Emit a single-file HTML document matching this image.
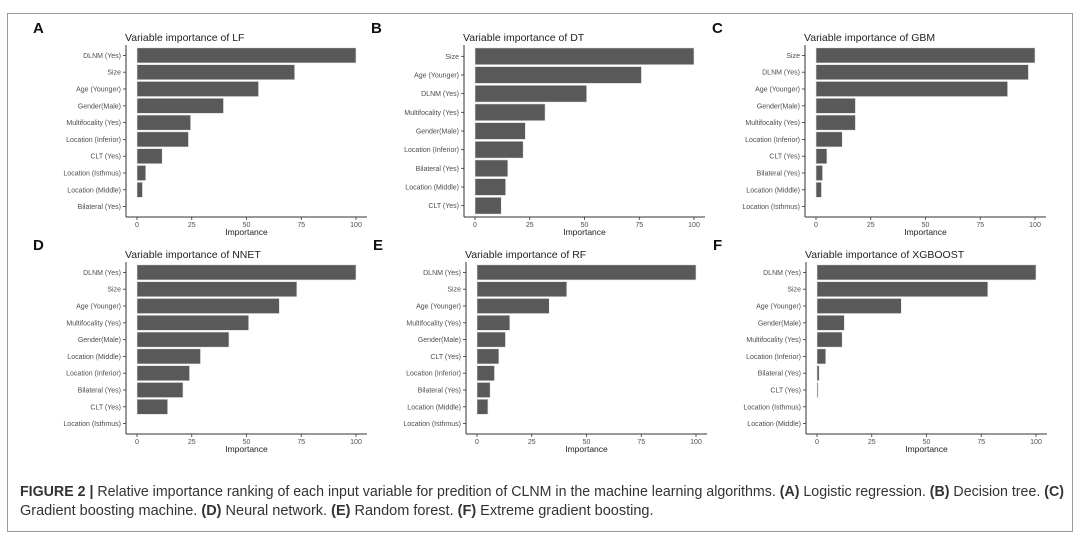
<!DOCTYPE html>
<html><head><meta charset="utf-8"><style>
body{margin:0;background:#fff;font-family:"Liberation Sans",Arial,sans-serif}
#wrap{position:relative;width:1080px;height:540px;overflow:hidden}
</style></head><body>
<div id="wrap">
<svg id="fig" width="1080" height="540" xmlns="http://www.w3.org/2000/svg">
<rect x="7.5" y="13.5" width="1065" height="518" fill="none" stroke="#9a9a9a" stroke-width="1"/>
<text x="20" y="496" font-size="14.5" fill="#333" textLength="1044" lengthAdjust="spacingAndGlyphs"><tspan font-weight="bold">FIGURE 2 |</tspan> Relative importance ranking of each input variable for predition of CLNM in the machine learning algorithms. <tspan font-weight="bold">(A)</tspan> Logistic regression. <tspan font-weight="bold">(B)</tspan> Decision tree. <tspan font-weight="bold">(C)</tspan></text>
<text x="20" y="515" font-size="14.5" fill="#333">Gradient boosting machine. <tspan font-weight="bold">(D)</tspan> Neural network. <tspan font-weight="bold">(E)</tspan> Random forest. <tspan font-weight="bold">(F)</tspan> Extreme gradient boosting.</text>
</svg>
</div>
<script>
const catsA=["DLNM (Yes)","Size","Age (Younger)","Gender(Male)","Multifocality (Yes)","Location (Inferior)","CLT (Yes)","Location (Isthmus)","Location (Middle)","Bilateral (Yes)"];
const valsA=[100,72,55.5,39.5,24.5,23.5,11.5,4,2.5,0];
const catsB=["Size","Age (Younger)","DLNM (Yes)","Multifocality (Yes)","Gender(Male)","Location (Inferior)","Bilateral (Yes)","Location (Middle)","CLT (Yes)"];
const valsB=[100,76,51,32,23,22,15,14,12];
const catsC=["Size","DLNM (Yes)","Age (Younger)","Gender(Male)","Multifocality (Yes)","Location (Inferior)","CLT (Yes)","Bilateral (Yes)","Location (Middle)","Location (Isthmus)"];
const valsC=[100,97,87.5,18,18,12,5,3,2.5,0];
const catsD=["DLNM (Yes)","Size","Age (Younger)","Multifocality (Yes)","Gender(Male)","Location (Middle)","Location (Inferior)","Bilateral (Yes)","CLT (Yes)","Location (Isthmus)"];
const valsD=[100,73,65,51,42,29,24,21,14,0];
const catsE=["DLNM (Yes)","Size","Age (Younger)","Multifocality (Yes)","Gender(Male)","CLT (Yes)","Location (Inferior)","Bilateral (Yes)","Location (Middle)","Location (Isthmus)"];
const valsE=[100,41,33,15,13,10,8,6,5,0];
const catsF=["DLNM (Yes)","Size","Age (Younger)","Gender(Male)","Multifocality (Yes)","Location (Inferior)","Bilateral (Yes)","CLT (Yes)","Location (Isthmus)","Location (Middle)"];
const valsF=[100,78,38.5,12.5,11.5,4,1,0.5,0,0];
const ticks=[0,25,50,75,100];
const titles=["LF","DT","GBM","NNET","RF","XGBOOST"];
const letters=["A","B","C","D","E","F"];

const svg=document.getElementById('fig');
const NS="http://www.w3.org/2000/svg";
function mk(tag,attrs,parent){const e=document.createElementNS(NS,tag);for(const k in attrs)e.setAttribute(k,attrs[k]);(parent||svg).appendChild(e);return e;}

const panels=[
 {cats:catsA,vals:valsA,x0:137,top:47,bot:217},
 {cats:catsB,vals:valsB,x0:475,top:47,bot:217},
 {cats:catsC,vals:valsC,x0:816,top:47,bot:217},
 {cats:catsD,vals:valsD,x0:137,top:264,bot:434},
 {cats:catsE,vals:valsE,x0:477,top:264,bot:434},
 {cats:catsF,vals:valsF,x0:817,top:264,bot:434}
];
panels.forEach((p,i)=>{
  const g=mk('g',{});
  
  
  const W=219;
  const xs=v=>p.x0+v/100*W;
  const n=p.cats.length;
  const step=(p.bot-p.top-2)/n;
  const yc=k=>p.top+step*(k+0.5);
  const axL=p.x0-11;
  const lt=mk('text',{x:axL-93,y:p.top-14,'font-size':15,'font-weight':'bold',fill:'#111'},g);
  lt.textContent=letters[i];
  
  
  const tt=mk('text',{x:axL-1,y:p.top-6,'font-size':10.5,fill:'#222'},g);
  tt.textContent="Variable importance of "+titles[i];
  
  
  p.cats.forEach((c,k)=>{
    const y=yc(k);
    const r=mk('rect',{x:xs(0),y:y-step*0.45,width:Math.max(0,xs(p.vals[k])-xs(0)),height:step*0.9,fill:'#595959',stroke:'#e8e8e8','stroke-width':0.6},g);
    
    
    mk('line',{x1:axL-3,x2:axL,y1:y,y2:y,stroke:'#333','stroke-width':0.8},g);
    const lb=mk('text',{x:axL-5,y:y+2.5,'font-size':7,fill:'#4d4d4d','text-anchor':'end'},g);
    lb.textContent=c;
    
    
  });
  const ya=mk('line',{x1:axL,x2:axL,y1:p.top-2,y2:p.bot,stroke:'#333','stroke-width':1},g);
  
  
  const xa=mk('line',{x1:axL,x2:xs(100)+11,y1:p.bot,y2:p.bot,stroke:'#333','stroke-width':1},g);
  
  
  ticks.forEach(t=>{
    mk('line',{x1:xs(t),x2:xs(t),y1:p.bot,y2:p.bot+3,stroke:'#333','stroke-width':0.8},g);
    const tl=mk('text',{x:xs(t),y:p.bot+10,'font-size':7,fill:'#4d4d4d','text-anchor':'middle'},g);
    tl.textContent=t;
    
    
  });
  const xt=mk('text',{x:xs(50),y:p.bot+18,'font-size':8.5,fill:'#222','text-anchor':'middle'},g);
  xt.textContent="Importance";
  
  
});
</script>
</body></html>
